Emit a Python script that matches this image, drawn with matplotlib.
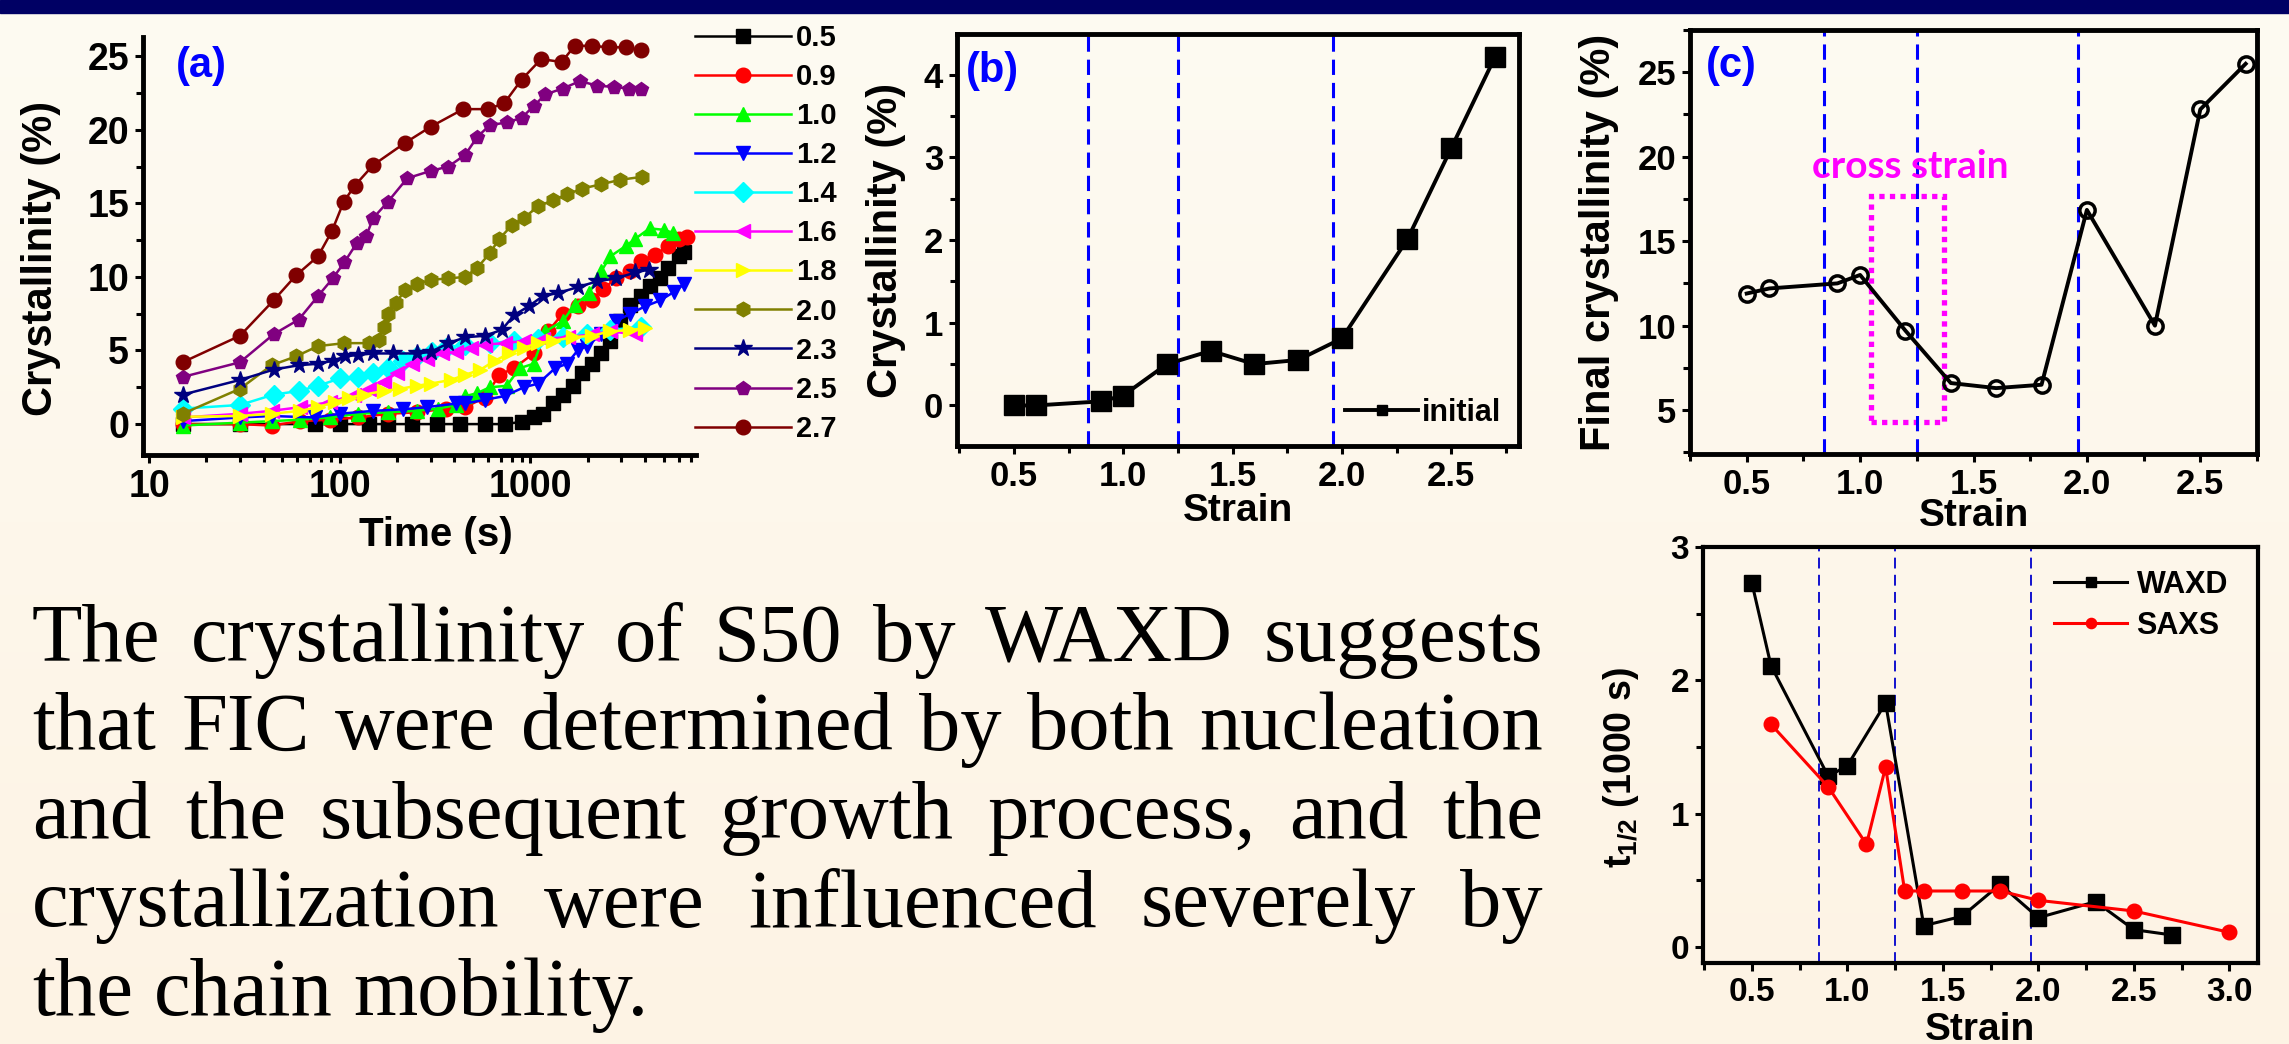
import numpy as np
import matplotlib

matplotlib.use('Agg')

import matplotlib.pyplot as plt
from matplotlib import font_manager
from matplotlib.ticker import MultipleLocator
from matplotlib.patches import Rectangle

W, H, DPI = 2289, 1044, 100
SANS = ['Liberation Sans', 'DejaVu Sans']
SERIF = ['Liberation Serif', 'DejaVu Serif']

# --- panel (a): crystallinity vs time for each strain ---
strain_labels = ['0.5', '0.9', '1.0', '1.2', '1.4', '1.6', '1.8', '2.0', '2.3', '2.5', '2.7']
colors_a = ['#000000', '#ff0000', '#00ff00', '#0000ff', '#00ffff', '#ff00ff',
            '#ffff00', '#808000', '#000080', '#800080', '#800000']
markers_a = ['s', 'o', '^', 'v', 'D', '<', '>', 'h', '*', 'p', 'o']

t_05 = [15, 30, 74, 100, 142, 179, 240, 323, 430, 576, 733, 900, 1040, 1166, 1310, 1480,
        1670, 1870, 2100, 2360, 2630, 2970, 3350, 3800, 4230, 4800, 5300, 6000, 6400]
c_05 = [0.0, 0.0, 0.0, 0.0, 0.0, 0.0, 0.0, 0.0, 0.0, 0.0, 0.0, 0.15, 0.45, 0.7, 1.4, 2.0,
        2.6, 3.5, 4.1, 4.8, 5.65, 7.0, 8.1, 8.7, 9.4, 9.9, 10.6, 11.4, 11.7]
t_09 = [15, 30, 44, 62, 89, 125, 179, 254, 363, 456, 576, 689, 821, 1040, 1240, 1480, 1770,
        2100, 2420, 2820, 3350, 3800, 4500, 5300, 6000, 6600]
c_09 = [0.0, 0.0, -0.1, 0.2, 0.3, 0.45, 0.7, 0.8, 1.05, 1.15, 1.8, 3.35, 3.8, 4.8, 6.3, 7.5,
        8.0, 8.45, 9.2, 9.9, 10.4, 11.1, 11.5, 12.1, 12.6, 12.7]
t_10 = [15, 30, 44, 62, 89, 125, 179, 254, 328, 410, 456, 526, 612, 752, 880, 1040, 1200,
        1480, 1710, 2040, 2360, 2630, 3170, 3560, 4230, 5000, 5600]
c_10 = [-0.1, 0.1, 0.2, 0.3, 0.45, 0.7, 0.8, 0.9, 1.05, 1.3, 1.9, 2.1, 2.5, 2.6, 3.8, 4.1,
        6.3, 7.0, 8.1, 8.9, 10.4, 11.4, 12.1, 12.6, 13.3, 13.2, 13.0]
t_12 = [15, 30, 44, 74, 100, 150, 214, 286, 410, 456, 576, 733, 925, 1100, 1350, 1560, 1770,
        1980, 2360, 2820, 3350, 4000, 4800, 5700, 6400]
c_12 = [0.2, 0.45, 0.55, 0.45, 0.7, 0.9, 1.0, 1.15, 1.4, 1.4, 1.65, 1.9, 2.5, 2.75, 3.8, 4.1,
        5.0, 5.3, 6.1, 7.0, 7.5, 8.0, 8.4, 9.0, 9.5]
t_14 = [15, 30, 45, 61, 77, 100, 125, 150, 179, 214, 254, 305, 363, 456, 612, 821, 1100, 1480,
        1980, 2630, 3800]
c_14 = [1.05, 1.3, 2.0, 2.25, 2.6, 3.1, 3.2, 3.5, 3.8, 4.3, 4.6, 4.9, 5.2, 5.4, 5.5, 5.65, 5.8,
        5.9, 6.1, 6.4, 6.6]
t_16 = [15, 30, 44, 62, 89, 119, 142, 170, 201, 239, 286, 343, 410, 486, 576, 733, 925, 1166,
        1570, 2100, 2630, 3560]
c_16 = [0.45, 0.7, 0.9, 1.15, 1.5, 2.0, 2.4, 2.85, 3.5, 4.1, 4.45, 4.8, 4.9, 5.2, 5.4, 5.5,
        5.65, 5.8, 5.9, 6.1, 6.3, 6.1]
t_18 = [15, 30, 44, 62, 77, 94, 112, 134, 170, 208, 254, 300, 383, 456, 548, 650, 777, 925,
        1100, 1310, 1670, 2100, 2630, 3350, 4000]
c_18 = [0.5, 0.55, 0.7, 0.9, 1.15, 1.5, 1.8, 2.0, 2.25, 2.4, 2.6, 2.75, 3.0, 3.35, 3.7, 4.3,
        4.8, 5.2, 5.5, 5.65, 5.9, 6.0, 6.3, 6.4, 6.5]
t_20 = [15, 30, 44, 59, 77, 106, 142, 160, 170, 180, 197, 220, 254, 300, 372, 456, 526, 612,
        689, 800, 925, 1100, 1310, 1560, 1870, 2360, 2970, 3860]
c_20 = [0.7, 2.4, 4.0, 4.6, 5.3, 5.5, 5.5, 5.7, 6.6, 7.5, 8.2, 9.1, 9.5, 9.8, 9.9, 10.0, 10.6,
        11.6, 12.6, 13.5, 14.0, 14.8, 15.2, 15.6, 16.0, 16.3, 16.6, 16.8]
t_23 = [15, 30, 45, 61, 77, 92, 107, 125, 150, 190, 254, 300, 372, 456, 576, 709, 821, 979,
        1166, 1390, 1770, 2240, 2820, 3560, 4200]
c_23 = [2.0, 3.0, 3.7, 4.0, 4.1, 4.3, 4.6, 4.7, 4.8, 4.8, 4.8, 4.9, 5.5, 5.9, 6.0, 6.4, 7.4,
        8.0, 8.7, 8.9, 9.3, 9.7, 9.9, 10.3, 10.5]
t_25 = [15, 30, 45, 61, 77, 92, 106, 123, 138, 150, 179, 226, 300, 372, 456, 526, 612, 752,
        900, 1040, 1200, 1480, 1820, 2240, 2750, 3300, 3800]
c_25 = [3.2, 4.2, 6.1, 7.1, 8.7, 9.9, 11.0, 12.3, 12.8, 14.0, 15.1, 16.7, 17.2, 17.5, 18.3,
        19.5, 20.3, 20.5, 20.8, 21.6, 22.4, 22.8, 23.3, 23.0, 22.9, 22.8, 22.8]
t_27 = [15, 30, 45, 59, 77, 91, 105, 120, 150, 220, 300, 445, 600, 730, 900, 1140, 1460, 1710,
        2100, 2580, 3170, 3800]
c_27 = [4.2, 6.0, 8.4, 10.1, 11.4, 13.1, 15.1, 16.2, 17.6, 19.1, 20.2, 21.4, 21.4, 21.8, 23.4,
        24.8, 24.6, 25.7, 25.7, 25.6, 25.6, 25.4]

times_a = [t_05, t_09, t_10, t_12, t_14, t_16, t_18, t_20, t_23, t_25, t_27]
cryst_a = [c_05, c_09, c_10, c_12, c_14, c_16, c_18, c_20, c_23, c_25, c_27]

# --- panel (b): initial crystallinity vs strain ---
strain_b = [0.5, 0.6, 0.9, 1.0, 1.2, 1.4, 1.6, 1.8, 2.0, 2.3, 2.5, 2.7]
initial_b = [0.0, 0.0, 0.05, 0.12, 0.50, 0.66, 0.50, 0.55, 0.81, 2.01, 3.11, 4.21]

# --- panel (c): final crystallinity vs strain ---
strain_c = [0.5, 0.6, 0.9, 1.0, 1.2, 1.4, 1.6, 1.8, 2.0, 2.3, 2.5, 2.7]
final_c = [11.9, 12.2, 12.5, 13.0, 9.7, 6.6, 6.3, 6.5, 16.85, 10.0, 22.8, 25.5]

# --- panel (d): half time vs strain ---
strain_waxd = [0.5, 0.6, 0.9, 1.0, 1.2, 1.4, 1.6, 1.8, 2.0, 2.3, 2.5, 2.7]
thalf_waxd = [2.73, 2.11, 1.28, 1.36, 1.83, 0.16, 0.23, 0.47, 0.22, 0.34, 0.13, 0.09]
strain_saxs = [0.6, 0.9, 1.1, 1.2, 1.3, 1.4, 1.6, 1.8, 2.0, 2.5, 3.0]
thalf_saxs = [1.67, 1.20, 0.77, 1.35, 0.42, 0.42, 0.42, 0.42, 0.35, 0.27, 0.11]

boundaries_bc = [0.84, 1.25, 1.96]
boundaries_d = [0.85, 1.25, 1.96]

paragraph = [
    "The crystallinity of S50 by WAXD suggests",
    "that FIC were determined by both nucleation",
    "and the subsequent growth process, and the",
    "crystallization were influenced severely by",
    "the chain mobility.",
]


def has_font(name):
    try:
        font_manager.findfont(font_manager.FontProperties(family=name),
                              fallback_to_default=False)
        return True
    except ValueError:
        return False


# tick labels in the original are a condensed bold face
if has_font('Liberation Sans Narrow'):
    TICK_FAMILY = ['Liberation Sans Narrow', 'Liberation Sans']
    tick_a, tick_bc, tick_d = 30, 28, 27
else:
    TICK_FAMILY = SANS
    tick_a, tick_bc, tick_d = 27, 25, 24


def px_box(left, top, right, bottom):
    return [left / W, 1 - bottom / H, (right - left) / W, (bottom - top) / H]


def style_axes(ax, box=True, lw=3.5, tsize=23):
    for side in ['left', 'bottom', 'top', 'right']:
        ax.spines[side].set_linewidth(lw)
    if not box:
        ax.spines['top'].set_visible(False)
        ax.spines['right'].set_visible(False)
    ax.set_facecolor('none')
    ax.tick_params(which='both', direction='out', width=2.2, top=False, right=False)
    ax.tick_params(which='major', length=6, pad=4)
    ax.tick_params(which='minor', length=5)
    for lab in ax.get_xticklabels() + ax.get_yticklabels():
        lab.set_fontfamily(TICK_FAMILY)
        lab.set_fontweight('bold')
        lab.set_fontsize(tsize)


plt.rcParams['font.family'] = SANS
plt.rcParams['mathtext.fontset'] = 'custom'
plt.rcParams['mathtext.rm'] = 'Liberation Sans:bold'
plt.rcParams['mathtext.it'] = 'Liberation Sans:bold'
plt.rcParams['mathtext.bf'] = 'Liberation Sans:bold'

fig = plt.figure(figsize=(W / DPI, H / DPI), dpi=DPI)

# slide background: soft cream gradient and navy bar on top
bg = fig.add_axes([0, 0, 1, 1])
top_col = np.array([254, 251, 242]) / 255
bot_col = np.array([253, 243, 228]) / 255
grad = np.linspace(0, 1, 256)[:, None, None]
bg.imshow(top_col * (1 - grad) + bot_col * grad, aspect='auto', extent=[0, 1, 0, 1])
bg.add_patch(Rectangle((0, 1 - 12.5 / H), 1, 12.5 / H, color='#000064'))
bg.set_xlim(0, 1)
bg.set_ylim(0, 1)
bg.axis('off')

label_kw = dict(fontsize=28, fontweight='bold')
ylab_kw = dict(fontsize=30, fontweight='bold')

# --- (a) ---
ax_a = fig.add_axes(px_box(143, 37, 696, 455))
handles = []
for t, c, lab, col, mk in zip(times_a, cryst_a, strain_labels, colors_a, markers_a):
    ms = 13 if mk == '*' else 10.5
    h, = ax_a.plot(t, c, color=col, marker=mk, ms=ms, mec=col, mfc=col, lw=1.8, label=lab)
    handles.append(h)
ax_a.set_xscale('log')
ax_a.set_xlim(9.3, 7400)
ax_a.set_ylim(-2.1, 26.3)
ax_a.yaxis.set_major_locator(MultipleLocator(5))
ax_a.yaxis.set_minor_locator(MultipleLocator(2.5))
ax_a.set_xticks([10, 100, 1000])
ax_a.set_xticklabels(['10', '100', '1000'])
style_axes(ax_a, box=False, lw=3.5, tsize=tick_a)
ax_a.set_xlabel('Time (s)', fontsize=29, fontweight='bold')
ax_a.xaxis.set_label_coords(0.53, -0.145)
ax_a.set_ylabel('Crystallinity (%)', **ylab_kw)
ax_a.yaxis.set_label_coords(-0.148, 0.47)
ax_a.text(0.06, 0.93, '(a)', transform=ax_a.transAxes, color='#0000ff',
          fontsize=30, fontweight='bold', va='center')
fig.legend(handles, strain_labels, loc='upper left', bbox_to_anchor=(695 / W, 1 - 24 / H),
           frameon=False, borderpad=0, borderaxespad=0, handlelength=3.3,
           handletextpad=0.15, labelspacing=0.38, prop=dict(family=SANS, weight='bold', size=21))

# --- (b) ---
ax_b = fig.add_axes(px_box(957, 34, 1519, 446))
for xb in boundaries_bc:
    ax_b.axvline(xb, color='#0000ff', lw=2.2, dashes=(5, 2.6))
ax_b.plot(strain_b, initial_b, color='black', marker='s', ms=15, lw=2.8, label='initial')
ax_b.set_xlim(0.24, 2.81)
ax_b.set_ylim(-0.49, 4.49)
ax_b.xaxis.set_major_locator(MultipleLocator(0.5))
ax_b.xaxis.set_minor_locator(MultipleLocator(0.25))
ax_b.yaxis.set_major_locator(MultipleLocator(1))
ax_b.yaxis.set_minor_locator(MultipleLocator(0.5))
style_axes(ax_b, box=True, lw=3.5, tsize=tick_bc)
ax_b.set_xlabel('Strain', labelpad=0, **label_kw)
ax_b.set_ylabel('Crystallinity (%)', **ylab_kw)
ax_b.yaxis.set_label_coords(-0.091, 0.5)
ax_b.text(0.015, 0.91, '(b)', transform=ax_b.transAxes, color='#0000ff',
          fontsize=30, fontweight='bold', va='center')
ax_b.legend(loc='lower right', frameon=False, borderaxespad=0.2, handlelength=2.4,
            handletextpad=0.1, markerscale=0.5, prop=dict(family=SANS, weight='bold', size=22))

# --- (c) ---
ax_c = fig.add_axes(px_box(1690, 30, 2257, 454))
for xb in boundaries_bc:
    ax_c.axvline(xb, color='#0000ff', lw=2.2, dashes=(5, 2.6))
ax_c.plot(strain_c, final_c, color='black', marker='o', ms=11, mfc='none', mec='black',
          mew=2.5, lw=2.8)
ax_c.add_patch(Rectangle((1.05, 4.3), 0.32, 13.4, fill=False, ec='#ff00ff', lw=3.8,
                         ls=(0, (1, 1))))
ax_c.text(1.22, 19.4, 'cross strain', color='#ff00ff', fontsize=28, fontweight='bold',
          family=['Lato', 'Open Sans', 'DejaVu Sans'], ha='center', va='center')
ax_c.set_xlim(0.25, 2.75)
ax_c.set_ylim(2.4, 27.5)
ax_c.xaxis.set_major_locator(MultipleLocator(0.5))
ax_c.xaxis.set_minor_locator(MultipleLocator(0.25))
ax_c.yaxis.set_major_locator(MultipleLocator(5))
ax_c.yaxis.set_minor_locator(MultipleLocator(2.5))
style_axes(ax_c, box=True, lw=3.5, tsize=tick_bc)
ax_c.set_xlabel('Strain', labelpad=-2, **label_kw)
ax_c.set_ylabel('Final crystallinity (%)', **ylab_kw)
ax_c.yaxis.set_label_coords(-0.125, 0.5)
ax_c.text(0.028, 0.915, '(c)', transform=ax_c.transAxes, color='#0000ff',
          fontsize=30, fontweight='bold', va='center')

# --- (d) ---
ax_d = fig.add_axes(px_box(1703, 547, 2258, 963))
for xb in boundaries_d:
    ax_d.axvline(xb, color='#0000cc', lw=1.3, dashes=(6, 3.5))
ax_d.plot(strain_waxd, thalf_waxd, color='black', marker='s', ms=11, lw=2.2, label='WAXD')
ax_d.plot(strain_saxs, thalf_saxs, color='#ff0000', marker='o', ms=10.5, lw=2.2, label='SAXS')
ax_d.set_xlim(0.244, 3.15)
ax_d.set_ylim(-0.12, 3.0)
ax_d.xaxis.set_major_locator(MultipleLocator(0.5))
ax_d.xaxis.set_minor_locator(MultipleLocator(0.25))
ax_d.yaxis.set_major_locator(MultipleLocator(1))
ax_d.yaxis.set_minor_locator(MultipleLocator(0.5))
style_axes(ax_d, box=True, lw=3.0, tsize=tick_d)
ax_d.set_xlabel('Strain', labelpad=3, **label_kw)
ax_d.set_ylabel(r'$\mathregular{t_{1/2}}$ (1000 s)', fontsize=27, fontweight='bold')
ax_d.yaxis.set_label_coords(-0.112, 0.47)
ax_d.legend(loc='upper left', bbox_to_anchor=(2054 / W, 1 - 570 / H),
            bbox_transform=fig.transFigure, frameon=False, borderpad=0, borderaxespad=0,
            handlelength=2.4, handletextpad=0.3, labelspacing=0.35, markerscale=0.7,
            prop=dict(family=SANS, weight='bold', size=22))

# --- justified paragraph ---
renderer = fig.canvas.get_renderer()
text_kw = dict(fontsize=59.5, family=SERIF, va='baseline', ha='left')
left_px, right_px = 32, 1543
for i, line in enumerate(paragraph):
    y = 1 - (661 + 88.5 * i) / H
    words = line.split(' ')
    objs = [fig.text(0, y, w, **text_kw) for w in words]
    widths = [o.get_window_extent(renderer).width for o in objs]
    if i == len(paragraph) - 1:
        probe_two = fig.text(0, 0, 'a a', **text_kw)
        probe_one = fig.text(0, 0, 'aa', **text_kw)
        gap = (probe_two.get_window_extent(renderer).width
               - probe_one.get_window_extent(renderer).width)
        probe_two.remove()
        probe_one.remove()
    else:
        gap = (right_px - left_px - sum(widths)) / (len(words) - 1)
    x = left_px
    for o, wd in zip(objs, widths):
        o.set_x(x / W)
        x += wd + gap

fig.savefig('out.png', dpi=DPI)
